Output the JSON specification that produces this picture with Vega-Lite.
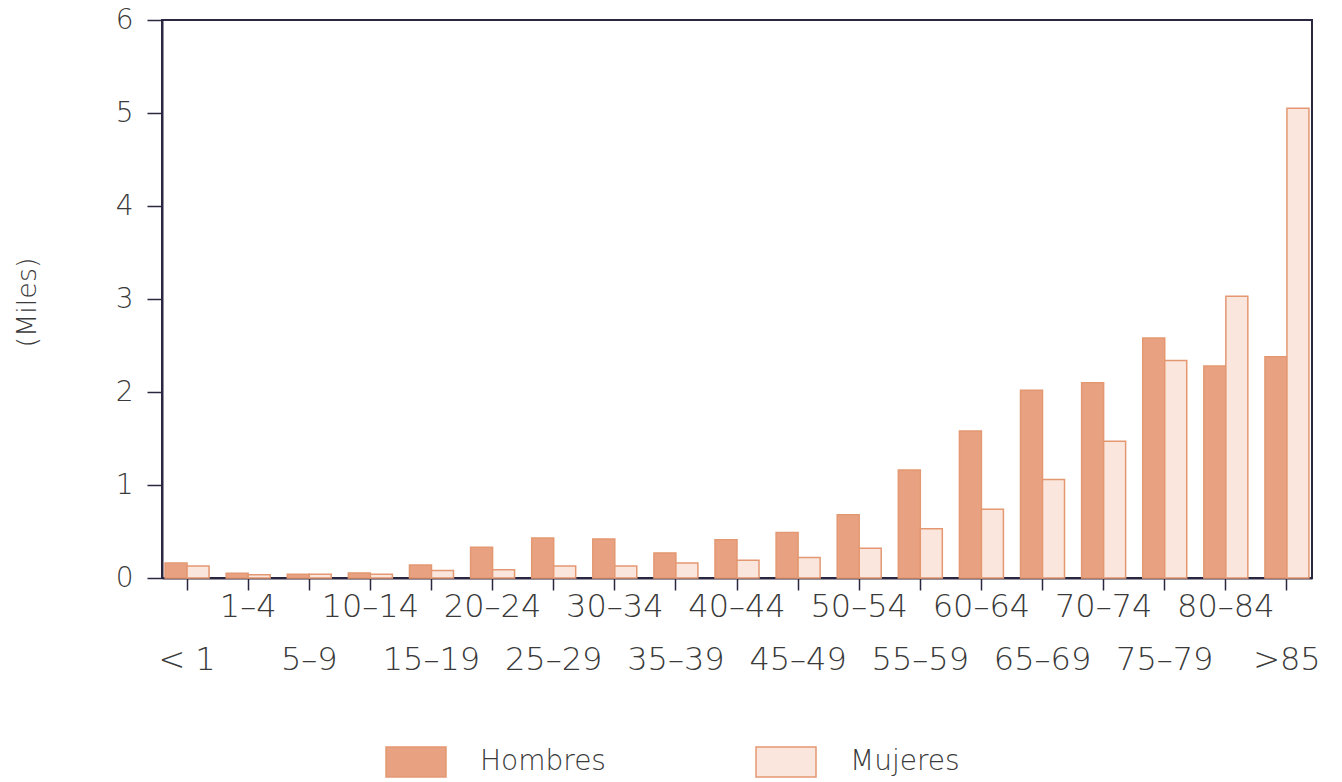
{
  "$schema": "https://vega.github.io/schema/vega-lite/v6.json",
  "width": 1150,
  "height": 558,
  "autosize": {"type": "none"},
  "padding": {"left": 162, "top": 20, "right": 30, "bottom": 204},
  "background": "white",
  "config": {"view": {"stroke": "#2a2740", "strokeWidth": 2}, "font": "DejaVu Sans"},
  "data": {
    "values": [
      {"edad": "< 1", "sexo": "Hombres", "miles": 0.16},
      {"edad": "< 1", "sexo": "Mujeres", "miles": 0.13},
      {"edad": "1–4", "sexo": "Hombres", "miles": 0.05},
      {"edad": "1–4", "sexo": "Mujeres", "miles": 0.035},
      {"edad": "5–9", "sexo": "Hombres", "miles": 0.04},
      {"edad": "5–9", "sexo": "Mujeres", "miles": 0.04},
      {"edad": "10–14", "sexo": "Hombres", "miles": 0.055},
      {"edad": "10–14", "sexo": "Mujeres", "miles": 0.04},
      {"edad": "15–19", "sexo": "Hombres", "miles": 0.14},
      {"edad": "15–19", "sexo": "Mujeres", "miles": 0.08},
      {"edad": "20–24", "sexo": "Hombres", "miles": 0.33},
      {"edad": "20–24", "sexo": "Mujeres", "miles": 0.09},
      {"edad": "25–29", "sexo": "Hombres", "miles": 0.43},
      {"edad": "25–29", "sexo": "Mujeres", "miles": 0.13},
      {"edad": "30–34", "sexo": "Hombres", "miles": 0.42},
      {"edad": "30–34", "sexo": "Mujeres", "miles": 0.13},
      {"edad": "35–39", "sexo": "Hombres", "miles": 0.27},
      {"edad": "35–39", "sexo": "Mujeres", "miles": 0.16},
      {"edad": "40–44", "sexo": "Hombres", "miles": 0.41},
      {"edad": "40–44", "sexo": "Mujeres", "miles": 0.19},
      {"edad": "45–49", "sexo": "Hombres", "miles": 0.49},
      {"edad": "45–49", "sexo": "Mujeres", "miles": 0.22},
      {"edad": "50–54", "sexo": "Hombres", "miles": 0.68},
      {"edad": "50–54", "sexo": "Mujeres", "miles": 0.32},
      {"edad": "55–59", "sexo": "Hombres", "miles": 1.16},
      {"edad": "55–59", "sexo": "Mujeres", "miles": 0.53},
      {"edad": "60–64", "sexo": "Hombres", "miles": 1.58},
      {"edad": "60–64", "sexo": "Mujeres", "miles": 0.74},
      {"edad": "65–69", "sexo": "Hombres", "miles": 2.02},
      {"edad": "65–69", "sexo": "Mujeres", "miles": 1.06},
      {"edad": "70–74", "sexo": "Hombres", "miles": 2.10},
      {"edad": "70–74", "sexo": "Mujeres", "miles": 1.47},
      {"edad": "75–79", "sexo": "Hombres", "miles": 2.58},
      {"edad": "75–79", "sexo": "Mujeres", "miles": 2.34},
      {"edad": "80–84", "sexo": "Hombres", "miles": 2.28},
      {"edad": "80–84", "sexo": "Mujeres", "miles": 3.03},
      {"edad": ">85", "sexo": "Hombres", "miles": 2.38},
      {"edad": ">85", "sexo": "Mujeres", "miles": 5.05}
    ]
  },
  "mark": {"type": "bar", "stroke": "#e39872", "strokeWidth": 1.5},
  "encoding": {
    "x": {
      "field": "edad",
      "type": "nominal",
      "sort": ["< 1", "1–4", "5–9", "10–14", "15–19", "20–24", "25–29", "30–34", "35–39", "40–44", "45–49", "50–54", "55–59", "60–64", "65–69", "70–74", "75–79", "80–84", ">85"],
      "scale": {"paddingInner": 0.28, "paddingOuter": 0.05},
      "axis": {
        "title": null,
        "domainColor": "#2a2740",
        "domainWidth": 2,
        "tickColor": "#2a2740",
        "tickSize": 12,
        "tickWidth": 1.5,
        "labelFont": "DejaVu Sans",
        "labelFontSize": 32,
        "labelFontWeight": 200,
        "labelColor": "#3a3a3a",
        "labelAngle": 0,
        "labelPadding": 1,
        "labelBaseline": "top",
        "labelLineHeight": 53,
        "labelOverlap": false,
        "labelBound": false,
        "labelExpr": "indexof(['< 1','5–9','15–19','25–29','35–39','45–49','55–59','65–69','75–79','>85'], datum.label) >= 0 ? ['', datum.label] : datum.label"
      }
    },
    "xOffset": {"field": "sexo", "type": "nominal", "sort": ["Hombres", "Mujeres"]},
    "y": {
      "field": "miles",
      "type": "quantitative",
      "scale": {"domain": [0, 6], "nice": false},
      "axis": {
        "title": "(Miles)",
        "titleFont": "DejaVu Sans",
        "titleFontSize": 27,
        "titleFontWeight": 200,
        "titleColor": "#3a3a3a",
        "titleX": -135,
        "titleY": 282,
        "titleAngle": 270,
        "titleAlign": "center",
        "titleBaseline": "middle",
        "values": [0, 1, 2, 3, 4, 5, 6],
        "grid": false,
        "domainColor": "#2a2740",
        "domainWidth": 2,
        "tickColor": "#2a2740",
        "tickSize": 15,
        "tickWidth": 1.5,
        "labelFont": "DejaVu Sans",
        "labelFontSize": 28,
        "labelFontWeight": 200,
        "labelColor": "#3a3a3a",
        "labelPadding": 14
      }
    },
    "fill": {
      "field": "sexo",
      "type": "nominal",
      "scale": {"domain": ["Hombres", "Mujeres"], "range": ["#e8a282", "#fae6dc"]},
      "legend": {
        "orient": "none",
        "legendX": 223,
        "legendY": 711,
        "direction": "horizontal",
        "title": null,
        "padding": 0,
        "symbolType": "M-1,-0.5H1V0.5H-1Z",
        "symbolSize": 3600,
        "symbolStrokeColor": "#e39872",
        "symbolStrokeWidth": 1.5,
        "symbolOpacity": 1,
        "labelFont": "DejaVu Sans",
        "labelFontSize": 28,
        "labelFontWeight": 200,
        "labelColor": "#3a3a3a",
        "labelOffset": 33,
        "columnPadding": 147
      }
    }
  }
}
